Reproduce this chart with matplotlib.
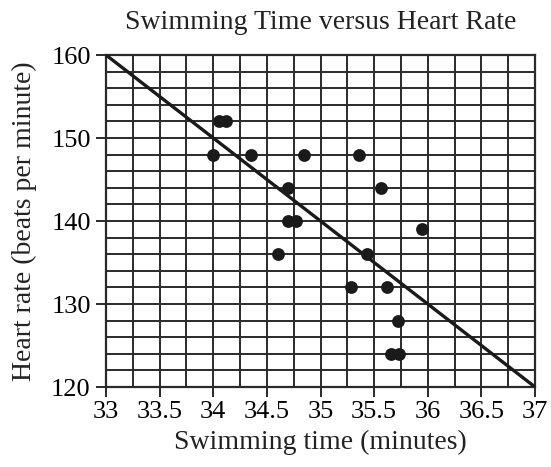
import matplotlib
matplotlib.use("Agg")
import matplotlib.pyplot as plt
import numpy as np

# Data
swim_time = [34.05, 34.12, 34.0, 34.35, 34.85, 35.36, 34.7, 35.56, 34.7, 34.77,
             35.95, 34.6, 35.43, 35.28, 35.62, 35.72, 35.66, 35.73]
heart_rate = [152, 152, 148, 148, 148, 148, 144, 144, 140, 140,
              139, 136, 136, 132, 132, 128, 124, 124]
line_x = [33, 37]
line_y = [160, 120]
x_ticks = [33, 33.5, 34, 34.5, 35, 35.5, 36, 36.5, 37]
x_tick_labels = ["33", "33.5", "34", "34.5", "35", "35.5", "36", "36.5", "37"]
y_ticks = [120, 130, 140, 150, 160]

plt.rcParams['font.family'] = ['Liberation Serif', 'DejaVu Serif']

fig = plt.figure(figsize=(5.51, 4.67), dpi=100)
ax = fig.add_axes([0.1924, 0.1713, 0.971 - 0.1924, 0.8822 - 0.1713])

ax.set_xlim(33, 37)
ax.set_ylim(120, 160)

# grid lines
for gx in np.arange(33, 37.001, 0.25):
    ax.axvline(gx, color='#2a2a2a', lw=1.4, zorder=1)
for gy in np.arange(120, 160.001, 2):
    ax.axhline(gy, color='#2a2a2a', lw=1.4, zorder=1)

ax.plot(line_x, line_y, color='#1a1a1a', lw=2.4, zorder=3, solid_capstyle='butt')
ax.scatter(swim_time, heart_rate, s=85, color='#1a1a1a', zorder=4, linewidths=0)

ax.set_xticks(x_ticks)
ax.set_xticklabels(x_tick_labels)
ax.set_yticks(y_ticks)
ax.tick_params(direction='out', length=7, width=1.4, labelsize=19, color='#2a2a2a')
ax.tick_params(axis='x', pad=3)
ax.tick_params(axis='y', pad=4)
for s in ax.spines.values():
    s.set_linewidth(1.6)
    s.set_color('#2a2a2a')

ax.set_title("Swimming Time versus Heart Rate", fontsize=20, pad=19, color='#222222')
ax.set_xlabel("Swimming time (minutes)", fontsize=20, labelpad=5, color='#222222')
ax.set_ylabel("Heart rate (beats per minute)", fontsize=20, labelpad=10, color='#222222')

fig.savefig("out.png", dpi=100)
